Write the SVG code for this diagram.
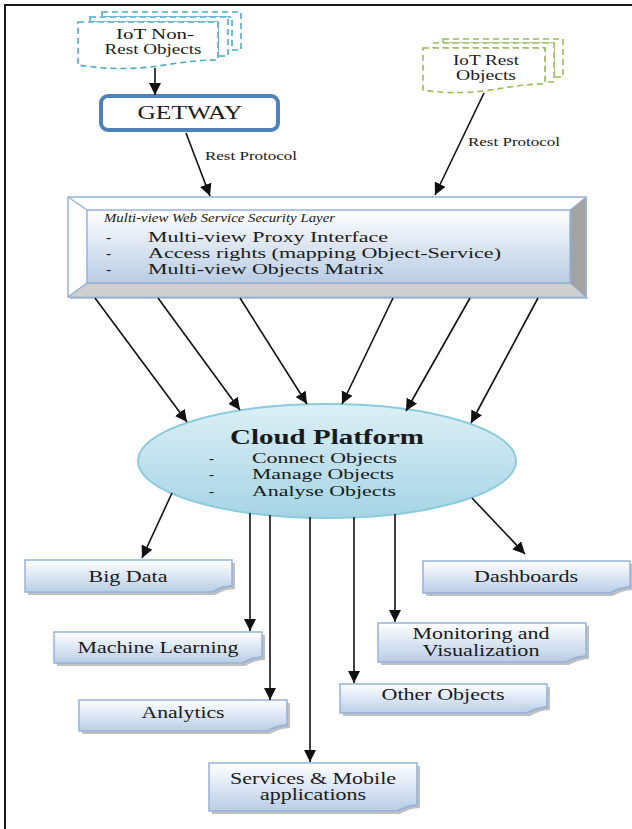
<svg xmlns="http://www.w3.org/2000/svg" width="632" height="829" viewBox="0 0 632 829">
  <style>
    .t { font-family: "Liberation Serif", "Times New Roman", serif; fill: #1a1a1a; }
    .lbl { font-size: 16px; text-anchor: middle; }
    .conn { stroke: #111; stroke-width: 1.6; fill: none; marker-end: url(#arrow); }
    .box { fill: url(#boxGrad); stroke: #95b3d7; stroke-width: 1.5; }
    .shadow { fill: #8c8c8c; opacity: 0.55; }
    .fold { fill: #dbe5f1; stroke: #95b3d7; stroke-width: 1; }
    .dashBlue { fill: #fff; stroke: #4bacc6; stroke-width: 1.6; stroke-dasharray: 6 4; }
    .dashGreen { fill: #fff; stroke: #9bbb59; stroke-width: 1.6; stroke-dasharray: 6 4; }
  </style>
  <defs>
    <marker id="arrow" markerWidth="12" markerHeight="12" refX="12" refY="6" orient="auto" markerUnits="userSpaceOnUse">
      <path d="M0,0 L12,6 L0,12 z" fill="#111"/>
    </marker>
    <linearGradient id="boxGrad" x1="0" y1="0" x2="0" y2="1">
      <stop offset="0" stop-color="#ffffff"/>
      <stop offset="0.35" stop-color="#e6eef8"/>
      <stop offset="1" stop-color="#b9cde5"/>
    </linearGradient>
    <linearGradient id="faceGrad" x1="0" y1="0" x2="0" y2="1">
      <stop offset="0" stop-color="#ffffff"/>
      <stop offset="1" stop-color="#b8cce4"/>
    </linearGradient>
    <linearGradient id="cloudGrad" x1="0" y1="0" x2="0" y2="1">
      <stop offset="0" stop-color="#dcf0f6"/>
      <stop offset="1" stop-color="#a6d4e5"/>
    </linearGradient>
  </defs>

  <!-- page frame -->
  <line x1="4" y1="5" x2="632" y2="5" stroke="#1a1a1a" stroke-width="2"/>
  <line x1="5" y1="4" x2="5" y2="829" stroke="#1a1a1a" stroke-width="2"/>

  <!-- IoT Non-Rest Objects (stacked documents) -->
  <g id="iot-non-rest">
    <path class="dashBlue" d="M102,12 H241 V50 H232 V17 H102 Z"/>
    <path class="dashBlue" d="M90,17 H228 V56 H218 V22 H90 Z"/>
    <path class="dashBlue" d="M78,22 H218 V60 C196,60 178,63 158,66 C130,70 102,69 78,65 Z"/>
    <text class="t" x="155" y="39" font-size="14" text-anchor="middle" textLength="78" lengthAdjust="spacingAndGlyphs">IoT Non-</text>
    <text class="t" x="153" y="54" font-size="14" text-anchor="middle" textLength="97" lengthAdjust="spacingAndGlyphs">Rest Objects</text>
  </g>

  <!-- Gateway -->
  <g id="gateway">
    <rect x="101" y="96" width="177" height="34" rx="7" fill="#fff" stroke="#4f81bd" stroke-width="4"/>
    <text class="t" x="190" y="119" font-size="18" text-anchor="middle" textLength="105" lengthAdjust="spacingAndGlyphs">GETWAY</text>
  </g>

  <!-- IoT Rest Objects (stacked documents) -->
  <g id="iot-rest">
    <path class="dashGreen" d="M443,39 H563 V77 H554 V43 H443 Z"/>
    <path class="dashGreen" d="M433,43 H554 V82 H545 V48 H433 Z"/>
    <path class="dashGreen" d="M423,48 H545 V84 C525,84 510,87 490,90 C465,94 442,93 423,90 Z"/>
    <text class="t" x="486" y="65" font-size="14" text-anchor="middle" textLength="66" lengthAdjust="spacingAndGlyphs">IoT Rest</text>
    <text class="t" x="486" y="80" font-size="14" text-anchor="middle" textLength="60" lengthAdjust="spacingAndGlyphs">Objects</text>
  </g>

  <!-- Multi-view Web Service Security Layer (bevelled panel) -->
  <g id="security-layer">
    <rect x="68" y="197" width="518" height="100" fill="#fff" stroke="#95b3d7" stroke-width="1.5"/>
    <polygon points="68,297 87,283 570,283 586,297" fill="#cfcfcf" stroke="#95b3d7" stroke-width="1"/>
    <polygon points="586,197 570,210 570,283 586,297" fill="#a3a3a3" stroke="#95b3d7" stroke-width="1"/>
    <line x1="68" y1="197" x2="87" y2="210" stroke="#95b3d7" stroke-width="1.5"/>
    <line x1="68" y1="297" x2="87" y2="283" stroke="#95b3d7" stroke-width="1.5"/>
    <rect x="87" y="210" width="483" height="73" fill="url(#faceGrad)" stroke="#95b3d7" stroke-width="1.5"/>
    <rect x="70" y="297" width="518" height="2" fill="#9aaecb" opacity="0.7"/>
    <text class="t" x="104" y="222" font-size="12" font-style="italic" textLength="231" lengthAdjust="spacingAndGlyphs">Multi-view Web Service Security Layer</text>
    <text class="t" x="106" y="242" font-size="15.5">-</text>
    <text class="t" x="148" y="242" font-size="15.5" textLength="240" lengthAdjust="spacingAndGlyphs">Multi-view Proxy Interface</text>
    <text class="t" x="106" y="258" font-size="15.5">-</text>
    <text class="t" x="148" y="258" font-size="15.5" textLength="353" lengthAdjust="spacingAndGlyphs">Access rights (mapping Object-Service)</text>
    <text class="t" x="106" y="274" font-size="15.5">-</text>
    <text class="t" x="148" y="274" font-size="15.5" textLength="236" lengthAdjust="spacingAndGlyphs">Multi-view Objects Matrix</text>
  </g>

  <!-- Cloud Platform -->
  <g id="cloud-platform">
    <ellipse cx="327" cy="461" rx="189" ry="57" fill="url(#cloudGrad)" stroke="#8ccbdd" stroke-width="2"/>
    <text class="t" x="327" y="444" font-size="20" font-weight="bold" text-anchor="middle" textLength="194" lengthAdjust="spacingAndGlyphs">Cloud Platform</text>
    <text class="t" x="209" y="463" font-size="15">-</text>
    <text class="t" x="252" y="463" font-size="15" textLength="145" lengthAdjust="spacingAndGlyphs">Connect Objects</text>
    <text class="t" x="209" y="479" font-size="15">-</text>
    <text class="t" x="252" y="479" font-size="15" textLength="142" lengthAdjust="spacingAndGlyphs">Manage Objects</text>
    <text class="t" x="209" y="496" font-size="15">-</text>
    <text class="t" x="252" y="496" font-size="15" textLength="144" lengthAdjust="spacingAndGlyphs">Analyse Objects</text>
  </g>

  <!-- Output boxes: rectangle with curled bottom-right corner -->
  <g id="big-data">
    <path class="shadow" d="M28,563 H235 V589 Q225,589 215,595 H28 Z"/>
    <path class="box" d="M25,560 H232 V586 Q222,586 212,592 H25 Z"/>
    <path class="fold" d="M232,586 Q222,586 212,592 Q222,588 232,586 Z"/>
    <text class="t lbl" x="128" y="582" textLength="79" lengthAdjust="spacingAndGlyphs">Big Data</text>
  </g>
  <g id="machine-learning">
    <path class="shadow" d="M57,635 H265 V660 Q255,660 245,666 H57 Z"/>
    <path class="box" d="M54,632 H262 V657 Q252,657 242,663 H54 Z"/>
    <path class="fold" d="M262,657 Q252,657 242,663 Q252,659 262,657 Z"/>
    <text class="t lbl" x="158" y="653" textLength="161" lengthAdjust="spacingAndGlyphs">Machine Learning</text>
  </g>
  <g id="analytics">
    <path class="shadow" d="M82,703 H290 V728 Q280,728 270,734 H82 Z"/>
    <path class="box" d="M79,700 H287 V725 Q277,725 267,731 H79 Z"/>
    <path class="fold" d="M287,725 Q277,725 267,731 Q277,727 287,725 Z"/>
    <text class="t lbl" x="183" y="718" textLength="83" lengthAdjust="spacingAndGlyphs">Analytics</text>
  </g>
  <g id="services-mobile">
    <path class="shadow" d="M212,766 H420 V808 Q410,808 400,814 H212 Z"/>
    <path class="box" d="M209,763 H417 V805 Q407,805 397,811 H209 Z"/>
    <path class="fold" d="M417,805 Q407,805 397,811 Q407,807 417,805 Z"/>
    <text class="t lbl" x="313" y="784" textLength="166" lengthAdjust="spacingAndGlyphs">Services &amp; Mobile</text>
    <text class="t lbl" x="313" y="800" textLength="106" lengthAdjust="spacingAndGlyphs">applications</text>
  </g>
  <g id="dashboards">
    <path class="shadow" d="M426,564 H633 V590 Q623,590 613,596 H426 Z"/>
    <path class="box" d="M423,561 H630 V587 Q620,587 610,593 H423 Z"/>
    <path class="fold" d="M630,587 Q620,587 610,593 Q620,589 630,587 Z"/>
    <text class="t lbl" x="526" y="582" textLength="104" lengthAdjust="spacingAndGlyphs">Dashboards</text>
  </g>
  <g id="monitoring">
    <path class="shadow" d="M381,626 H589 V659 Q579,659 569,665 H381 Z"/>
    <path class="box" d="M378,623 H586 V656 Q576,656 566,662 H378 Z"/>
    <path class="fold" d="M586,656 Q576,656 566,662 Q576,658 586,656 Z"/>
    <text class="t lbl" x="481" y="639" textLength="137" lengthAdjust="spacingAndGlyphs">Monitoring and</text>
    <text class="t lbl" x="481" y="656" textLength="117" lengthAdjust="spacingAndGlyphs">Visualization</text>
  </g>
  <g id="other-objects">
    <path class="shadow" d="M343,687 H550 V710 Q540,710 530,716 H343 Z"/>
    <path class="box" d="M340,684 H547 V707 Q537,707 527,713 H340 Z"/>
    <path class="fold" d="M547,707 Q537,707 527,713 Q537,709 547,707 Z"/>
    <text class="t lbl" x="443" y="700" textLength="123" lengthAdjust="spacingAndGlyphs">Other Objects</text>
  </g>

  <!-- Protocol labels -->
  <text class="t" x="205" y="160" font-size="12" textLength="92" lengthAdjust="spacingAndGlyphs">Rest Protocol</text>
  <text class="t" x="468" y="146" font-size="12" textLength="92" lengthAdjust="spacingAndGlyphs">Rest Protocol</text>

  <!-- Connectors -->
  <g id="connectors">
    <line class="conn" x1="155" y1="68" x2="155" y2="95"/>
    <line class="conn" x1="186" y1="133" x2="210" y2="196"/>
    <line class="conn" x1="484" y1="93" x2="435" y2="195"/>

    <line class="conn" x1="95" y1="298" x2="187" y2="422"/>
    <line class="conn" x1="158" y1="298" x2="240" y2="410"/>
    <line class="conn" x1="240" y1="298" x2="307" y2="404"/>
    <line class="conn" x1="393" y1="298" x2="342" y2="404"/>
    <line class="conn" x1="470" y1="298" x2="406" y2="411"/>
    <line class="conn" x1="538" y1="298" x2="471" y2="423"/>

    <line class="conn" x1="172" y1="493" x2="142" y2="558"/>
    <line class="conn" x1="250" y1="513" x2="250" y2="631"/>
    <line class="conn" x1="270" y1="515" x2="270" y2="700"/>
    <line class="conn" x1="310" y1="517" x2="310" y2="762"/>
    <line class="conn" x1="354" y1="517" x2="354" y2="683"/>
    <line class="conn" x1="395" y1="514" x2="395" y2="622"/>
    <line class="conn" x1="472" y1="498" x2="525" y2="554"/>
  </g>
</svg>
